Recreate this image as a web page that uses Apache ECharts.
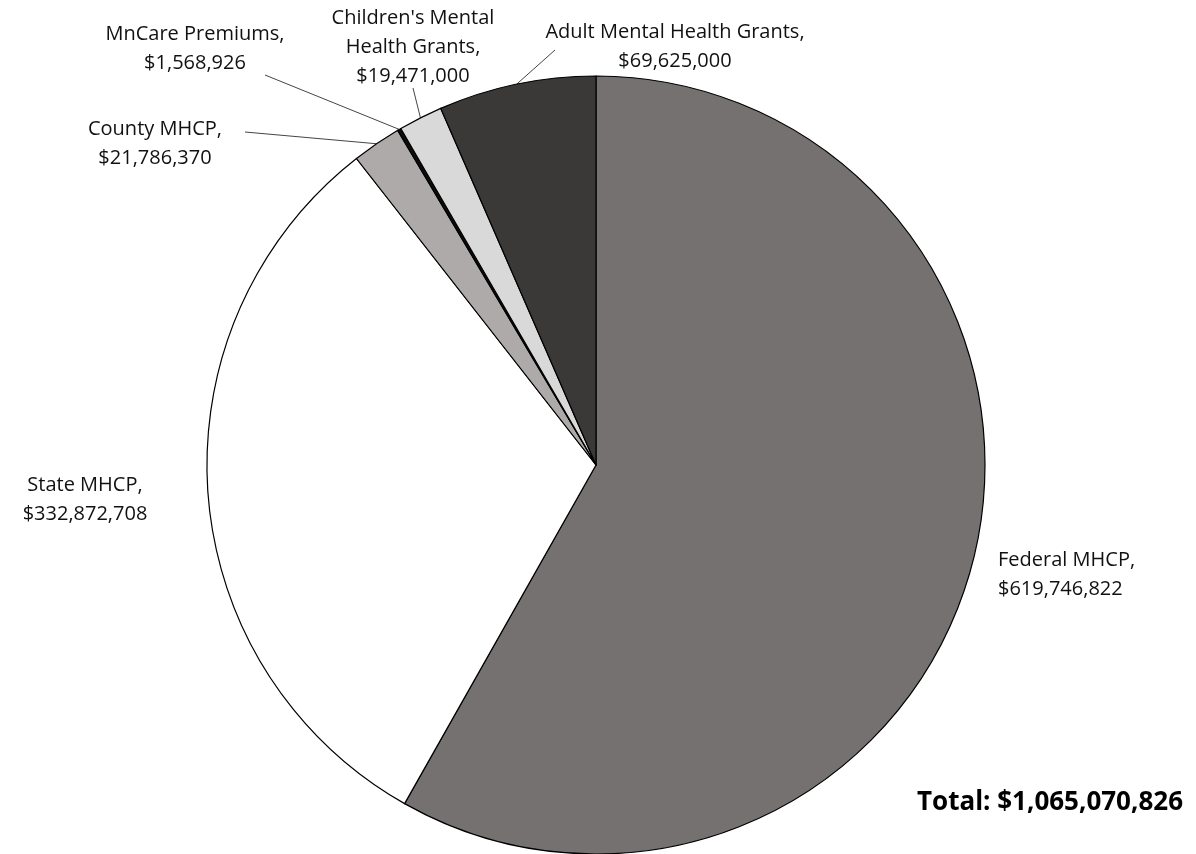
<!DOCTYPE html>
<html>
<head>
<meta charset="utf-8">
<script src="https://cdn.jsdelivr.net/npm/echarts@6/dist/echarts.min.js"></script>
<style>
  html, body { margin: 0; padding: 0; background: #fff; }
  #chart { width: 1196px; height: 854px; }
</style>
</head>
<body>
<div id="chart"></div>
<script>
// Funding sources, clockwise from 12 o'clock
const sources = [
  'Federal MHCP',
  'State MHCP',
  'County MHCP',
  'MnCare Premiums',
  "Children's Mental Health Grants",
  'Adult Mental Health Grants'
]
const amounts = [619746822, 332872708, 21786370, 1568926, 19471000, 69625000]
const sliceColors = ['#767171', '#ffffff', '#aeaaaa', '#0d0d0d', '#d9d9d9', '#3b3838']

// label text as it wraps in the original
const labelText = [
  'Federal MHCP,',
  'State MHCP,',
  'County MHCP,',
  'MnCare Premiums,',
  "Children's Mental\nHealth Grants,",
  'Adult Mental Health Grants,'
]

// where each label sits (and where its leader line ends, if it has one)
const labelSpots = [
  { x: 998, y: 575, align: 'left' },
  { x: 85, y: 500, align: 'center' },
  { x: 155, y: 144, align: 'center', line: [245, 132] },
  { x: 195, y: 49, align: 'center', line: [265, 75] },
  { x: 413, y: 47, align: 'center', line: [413, 88] },
  { x: 675, y: 47, align: 'center', line: [555, 50] }
]

const money = v => '$' + v.toLocaleString('en-US')
const total = amounts.reduce((a, b) => a + b, 0)

const chart = echarts.init(document.getElementById('chart'))
const font = '"Open Sans", Lato, sans-serif'

chart.setOption({
  animation: false,
  title: {
    text: 'Total: ' + money(total),
    right: 8,
    top: 785,
    textStyle: { fontFamily: font, fontSize: 26, fontWeight: 'bold', color: '#000' }
  },
  series: [
    {
      type: 'pie',
      center: [596, 465],
      radius: 389,
      startAngle: 90,
      clockwise: true,
      silent: true,
      data: sources.map((name, i) => ({
        name,
        value: amounts[i],
        itemStyle: { color: sliceColors[i] },
        label: { formatter: labelText[i] + '\n' + money(amounts[i]) },
        labelLine: { show: !!labelSpots[i].line }
      })),
      itemStyle: { borderColor: '#000', borderWidth: 1.2 },
      label: {
        show: true,
        position: 'outside',
        fontFamily: font,
        fontSize: 20,
        lineHeight: 29,
        color: '#111',
        align: 'center'
      },
      labelLine: {
        show: true,
        lineStyle: { color: '#444', width: 1 }
      },
      labelLayout: function (params) {
        const s = labelSpots[params.dataIndex]
        const out = { x: s.x, y: s.y, align: s.align, verticalAlign: 'middle' }
        if (s.line && params.labelLinePoints) {
          out.labelLinePoints = [params.labelLinePoints[0], s.line, s.line]
        }
        return out
      }
    }
  ]
})

window.addEventListener('resize', () => chart.resize())
</script>
</body>
</html>
